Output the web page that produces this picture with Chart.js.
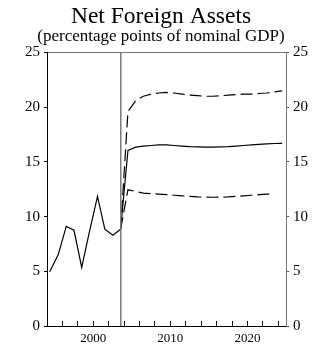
<!DOCTYPE html>
<html>
<head>
<meta charset="utf-8">
<script src="https://cdn.jsdelivr.net/npm/chart.js@4.4.1/dist/chart.umd.min.js"></script>
<style>
  html, body { margin: 0; padding: 0; background: #fff; }
</style>
</head>
<body>
<canvas id="nfaChart" width="322" height="347"></canvas>
<script>
// historical annual data (x is the year position on the axis)
const histYears = [1994.35, 1995.45, 1996.5, 1997.5, 1998.5, 1999.5, 2000.55, 2001.5, 2002.55, 2003.55];
const histValues = [4.95, 6.5, 9.1, 8.75, 5.35, 8.6, 11.85, 8.85, 8.3, 8.85];

// projection years and bands
const projYears = [2004.5, 2005.5, 2006.5, 2007.5, 2008.5, 2009.5, 2010.5, 2011.5, 2012.5, 2013.5,
  2014.5, 2015.5, 2016.5, 2017.5, 2018.5, 2019.5, 2020.5, 2021.5, 2022.5, 2023.5, 2024.5];
const projCentral = [16.05, 16.35, 16.45, 16.5, 16.55, 16.55, 16.5, 16.45, 16.4, 16.37,
  16.35, 16.35, 16.37, 16.4, 16.45, 16.5, 16.55, 16.6, 16.65, 16.68, 16.7];
const projUpper = [19.6, 20.6, 21.0, 21.2, 21.3, 21.35, 21.3, 21.2, 21.1, 21.05,
  21.0, 21.0, 21.05, 21.1, 21.15, 21.2, 21.2, 21.25, 21.3, 21.4, 21.5];
// lower band stops one year earlier
const projLower = [12.45, 12.3, 12.15, 12.1, 12.05, 12.0, 11.95, 11.9, 11.85, 11.8,
  11.78, 11.77, 11.78, 11.8, 11.85, 11.9, 11.95, 12.0, 12.05, 12.07];

const breakYear = 2003.57;
const xTickYears = [1996, 1998, 2000, 2002, 2004, 2006, 2008, 2010, 2012, 2014, 2016, 2018, 2020, 2022, 2024];
const xLabelYears = [2000, 2010, 2020];
const yTicks = [0, 5, 10, 15, 20, 25];

const serif = "'Liberation Serif', 'DejaVu Serif', serif";

function pairs(xs, ys) {
  return ys.map((y, i) => ({ x: xs[i], y: y }));
}
// projections start from the last observed point
const lastX = histYears[histYears.length - 1];
const lastY = histValues[histValues.length - 1];
function proj(ys) {
  return [{ x: lastX, y: lastY }].concat(pairs(projYears, ys));
}

const ctx = document.getElementById("nfaChart");

new Chart(ctx, {
  type: "line",
  data: {
    datasets: [
      {
        label: "Break",
        data: [{ x: breakYear, y: yTicks[0] }, { x: breakYear, y: yTicks[yTicks.length - 1] }],
        borderColor: "#7a7a7a",
        borderWidth: 1.5,
      },
      {
        label: "Historical",
        data: pairs(histYears, histValues),
        borderColor: "#000",
        borderWidth: 1.2,
      },
      {
        label: "Central",
        data: proj(projCentral),
        borderColor: "#000",
        borderWidth: 1.2,
      },
      {
        label: "Upper",
        data: proj(projUpper),
        borderColor: "#000",
        borderWidth: 1.2,
        borderDash: [12, 5],
      },
      {
        label: "Lower",
        data: proj(projLower),
        borderColor: "#000",
        borderWidth: 1.2,
        borderDash: [12, 5],
      },
    ],
  },
  options: {
    responsive: false,
    animation: false,
    devicePixelRatio: 1,
    elements: { point: { radius: 0 }, line: { tension: 0 } },
    layout: { padding: 0 },
    plugins: {
      legend: { display: false },
      tooltip: { enabled: false },
      title: {
        display: true,
        text: "Net Foreign Assets",
        color: "#000",
        font: { family: serif, size: 23.5, weight: "normal", lineHeight: 1 },
        padding: { top: 5, bottom: 0 },
      },
      subtitle: {
        display: true,
        text: "(percentage points of nominal GDP)",
        color: "#000",
        font: { family: serif, size: 17, weight: "normal", lineHeight: 1 },
        padding: { top: 0, bottom: 7 },
      },
    },
    scales: {
      x: {
        type: "linear",
        position: "bottom",
        min: 1994,
        max: 2025,
        afterBuildTicks: (s) => { s.ticks = xTickYears.map((v) => ({ value: v })); },
        afterFit: (s) => { s.height = 21; },
        ticks: {
          autoSkip: false,
          maxRotation: 0,
          padding: 10,
          color: "#000",
          font: { family: serif, size: 13 },
          callback: (v) => (xLabelYears.includes(v) ? String(v) : ""),
        },
        grid: { drawOnChartArea: false, tickLength: -5, color: "#000", lineWidth: 1 },
        border: { color: "#000", width: 1 },
      },
      xTop: {
        type: "linear",
        position: "top",
        min: 1994,
        max: 2025,
        afterFit: (s) => { s.height = 0; },
        ticks: { display: false },
        grid: { display: false },
        border: { color: "#777", width: 1 },
      },
      y: {
        position: "left",
        min: 0,
        max: 25,
        afterBuildTicks: (s) => { s.ticks = yTicks.map((v) => ({ value: v })); },
        afterFit: (s) => { s.width = 47; },
        ticks: { padding: 4, color: "#000", font: { family: serif, size: 15 } },
        grid: { drawOnChartArea: false, tickLength: 3, color: "#000" },
        border: { color: "#000", width: 1 },
      },
      y2: {
        position: "right",
        min: 0,
        max: 25,
        afterBuildTicks: (s) => { s.ticks = yTicks.map((v) => ({ value: v })); },
        afterFit: (s) => { s.width = 36; },
        ticks: { padding: 4, color: "#000", font: { family: serif, size: 15 } },
        grid: { drawOnChartArea: false, tickLength: 3, color: "#555" },
        border: { color: "#777", width: 1 },
      },
    },
  },
});
</script>
</body>
</html>
